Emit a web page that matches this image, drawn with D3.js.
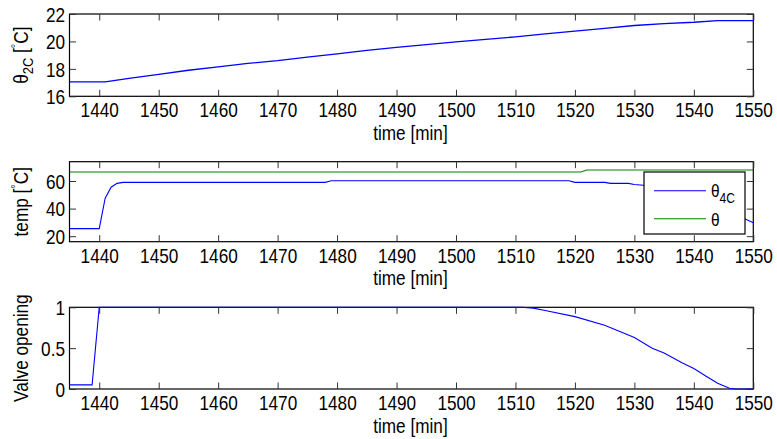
<!DOCTYPE html>
<html>
<head>
<meta charset="utf-8">
<script src="https://cdn.jsdelivr.net/npm/d3@7/dist/d3.min.js"></script>
<style>
body { margin: 0; background: #fff; }
text { font-family: "Liberation Sans", Arial, Helvetica, sans-serif; fill: #000; }
</style>
</head>
<body>
<script>
// x ticks shared by all three panels
var timeTicks = [1440, 1450, 1460, 1470, 1480, 1490, 1500, 1510, 1520, 1530, 1540, 1550];

// panel 1: theta_2C
var time2C = [1435, 1441, 1445, 1450, 1455, 1460, 1465, 1470, 1475, 1480, 1485, 1490, 1495, 1500, 1505, 1510, 1515, 1520, 1525, 1530, 1535, 1540, 1544, 1550];
var theta2C = [17.05, 17.05, 17.3, 17.6, 17.9, 18.15, 18.4, 18.6, 18.85, 19.1, 19.35, 19.56, 19.77, 19.97, 20.15, 20.33, 20.55, 20.75, 20.95, 21.16, 21.3, 21.4, 21.52, 21.52];
var ticks2C = [16, 18, 20, 22];

// panel 2: theta_4C and theta
var time4C = [1435, 1440, 1441, 1442, 1443, 1444, 1478, 1479, 1519, 1520, 1525, 1526, 1529, 1530, 1532, 1534, 1536, 1538, 1540, 1542, 1544, 1546, 1548, 1549, 1550];
var theta4C = [25.5, 25.5, 47.5, 55.5, 58.3, 59, 59, 60.2, 60.2, 59, 59, 58.3, 58.3, 57.5, 56.8, 55.5, 54, 52, 49.5, 46.5, 43, 39, 34, 31.7, 29.8];
var timeSup = [1435, 1521, 1522, 1550];
var thetaSup = [66.5, 66.5, 68, 68];
var ticksTemp = [20, 40, 60];

// panel 3: valve opening
var timeValve = [1435, 1438.8, 1440, 1511, 1513, 1515, 1520, 1525, 1530, 1533, 1535, 1538, 1540, 1542, 1544, 1546, 1547, 1550];
var valve = [0.05, 0.05, 1, 1, 0.99, 0.96, 0.886, 0.78, 0.63, 0.5, 0.44, 0.32, 0.25, 0.16, 0.07, 0.01, 0, 0];
var ticksValve = [0, 0.5, 1];

var width = 777, height = 439;
var left = 69.5, right = 753.3;
var sx = 0.86; // the figure text is a bit squeezed sideways
var tickLen = 6.5;

var svg = d3.select('body').append('svg').attr('width', width).attr('height', height);

var x = d3.scaleLinear().domain([1435, 1550]).range([left, right]);

function addPanel(top, bottom, ydomain, yticks) {
    var y = d3.scaleLinear().domain(ydomain).range([bottom, top]);
    var g = svg.append('g');

    g.append('rect')
        .attr('x', left).attr('y', top)
        .attr('width', right - left).attr('height', bottom - top)
        .attr('fill', '#fff').attr('stroke', '#000').attr('stroke-width', 1.2);

    var bot = g.append('g').attr('transform', 'translate(0,' + bottom + ')')
        .call(d3.axisBottom(x).tickValues(timeTicks).tickSize(-tickLen).tickFormat(d3.format('d')));
    var topAx = g.append('g').attr('transform', 'translate(0,' + top + ')')
        .call(d3.axisTop(x).tickValues(timeTicks).tickSize(-tickLen).tickFormat(''));
    var lft = g.append('g').attr('transform', 'translate(' + left + ',0)')
        .call(d3.axisLeft(y).tickValues(yticks).tickSize(-tickLen).tickFormat(function (d) { return d; }));
    var rgt = g.append('g').attr('transform', 'translate(' + right + ',0)')
        .call(d3.axisRight(y).tickValues(yticks).tickSize(-tickLen).tickFormat(''));

    [bot, topAx, lft, rgt].forEach(function (a) {
        a.select('.domain').remove();
        a.selectAll('line').attr('stroke', '#333').attr('stroke-width', 1);
    });

    bot.selectAll('text')
        .attr('y', 21).attr('dy', null)
        .attr('transform', 'scale(' + sx + ',1)')
        .style('font-size', '20px');
    lft.selectAll('text')
        .attr('x', -4.5 / sx).attr('dy', '0.36em')
        .attr('transform', 'scale(' + sx + ',1)')
        .style('font-size', '20px');

    g.append('text')
        .attr('transform', 'translate(' + ((left + right) / 2 - 1) + ',' + (bottom + 43.5) + ') scale(' + sx + ',1)')
        .attr('text-anchor', 'middle')
        .style('font-size', '20px')
        .text('time [min]');

    return {y: y, g: g, top: top, bottom: bottom};
}

function yLabel(p, parts) {
    var t = svg.append('text')
        .attr('transform', 'translate(28,' + ((p.top + p.bottom) / 2) + ') rotate(-90) scale(' + sx + ',1)')
        .attr('text-anchor', 'middle')
        .style('font-size', '20px');
    parts.forEach(function (s) {
        var ts = t.append('tspan').text(s.t);
        if (s.dy) ts.attr('dy', s.dy);
        if (s.size) ts.style('font-size', s.size);
    });
}

function drawLine(p, xs, ys, color, w) {
    var pts = xs.map(function (d, i) { return [d, ys[i]]; });
    p.g.append('path')
        .datum(pts)
        .attr('fill', 'none')
        .attr('stroke', color)
        .attr('stroke-width', w)
        .attr('d', d3.line()
            .x(function (d) { return x(d[0]); })
            .y(function (d) { return p.y(d[1]); }));
}

// panel 1
var p1 = addPanel(14, 96.3, [16, 22], ticks2C);
drawLine(p1, time2C, theta2C, '#0000ff', 1.3);
yLabel(p1, [
    {t: 'θ'}, {t: '2C', dy: 5, size: '15px'}, {t: ' [', dy: -5},
    {t: '°', dy: -8, size: '13px'}, {t: 'C]', dy: 8}
]);

// panel 2
var p2 = addPanel(161.7, 241.7, [16, 74], ticksTemp);
drawLine(p2, timeSup, thetaSup, '#008000', 1.1);
drawLine(p2, time4C, theta4C, '#0000ff', 1.1);
yLabel(p2, [
    {t: 'temp ['}, {t: '°', dy: -8, size: '13px'}, {t: 'C]', dy: 8}
]);

// legend
var leg = p2.g.append('g');
leg.append('rect')
    .attr('x', 644).attr('y', 172).attr('width', 101).attr('height', 62)
    .attr('fill', '#fff').attr('stroke', '#000').attr('stroke-width', 1.2);
leg.append('line').attr('x1', 654).attr('x2', 706).attr('y1', 190.7).attr('y2', 190.7)
    .attr('stroke', '#0000ff').attr('stroke-width', 1.1);
leg.append('line').attr('x1', 654).attr('x2', 706).attr('y1', 218.7).attr('y2', 218.7)
    .attr('stroke', '#008000').attr('stroke-width', 1.1);
var l1 = leg.append('text').attr('transform', 'translate(711,196.5) scale(' + sx + ',1)').style('font-size', '18px');
l1.append('tspan').text('θ');
l1.append('tspan').attr('dy', 6).style('font-size', '14px').text('4C');
leg.append('text').attr('transform', 'translate(711,226) scale(' + sx + ',1)').style('font-size', '18px').text('θ');

// panel 3
var p3 = addPanel(307.3, 389, [0, 1], ticksValve);
drawLine(p3, timeValve, valve, '#0000ff', 1.1);
yLabel(p3, [{t: 'Valve opening'}]);
</script>
</body>
</html>
